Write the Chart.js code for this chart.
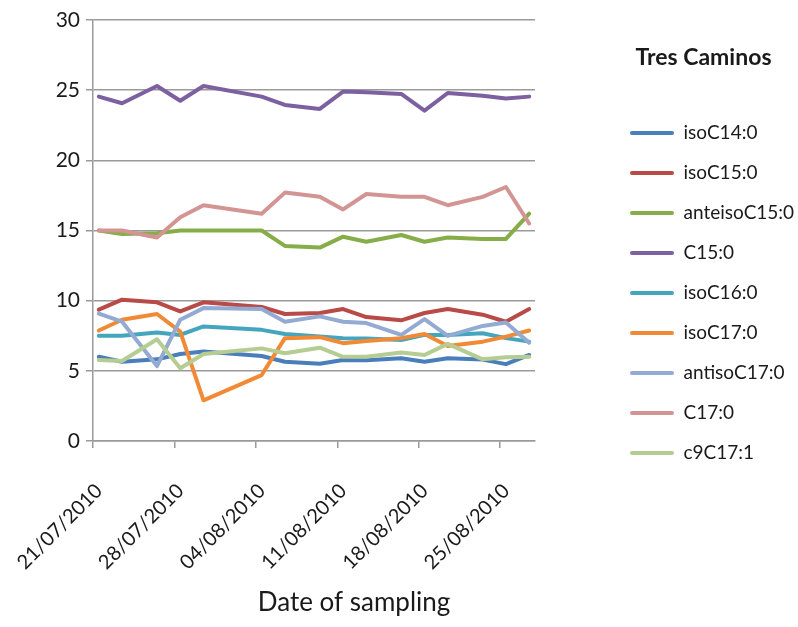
<!DOCTYPE html>
<html>
<head>
<meta charset="utf-8">
<script src="https://cdn.jsdelivr.net/npm/chart.js@4.4.0/dist/chart.umd.min.js"></script>
<style>
  html, body { margin: 0; padding: 0; background: #fff; overflow: hidden; }
  canvas { display: block; }
</style>
</head>
<body>
<canvas id="myChart" width="798" height="627"></canvas>
<script>
// sampling dates (dd/mm/yyyy)
const sampleDates = ['21/07/2010', '23/07/2010', '26/07/2010', '28/07/2010', '30/07/2010',
  '04/08/2010', '06/08/2010', '09/08/2010', '11/08/2010', '13/08/2010', '16/08/2010',
  '18/08/2010', '20/08/2010', '23/08/2010', '25/08/2010', '27/08/2010'];
const tickLabels = ['21/07/2010', '28/07/2010', '04/08/2010', '11/08/2010', '18/08/2010', '25/08/2010'];
const axisEnd = '28/08/2010';

const seriesNames = ['isoC14:0', 'isoC15:0', 'anteisoC15:0', 'C15:0', 'isoC16:0',
  'isoC17:0', 'antisoC17:0', 'C17:0', 'c9C17:1'];

const isoC14 = [6.0, 5.65, 5.82, 6.2, 6.37, 6.06, 5.65, 5.5, 5.77, 5.75, 5.89, 5.65, 5.89, 5.8, 5.48, 6.13];
const isoC15 = [9.36, 10.07, 9.88, 9.23, 9.88, 9.55, 9.05, 9.12, 9.4, 8.83, 8.6, 9.12, 9.4, 9.0, 8.5, 9.4];
const anteisoC15 = [15.0, 14.75, 14.8, 15.0, 15.0, 15.0, 13.9, 13.78, 14.56, 14.2, 14.68, 14.2, 14.5, 14.4, 14.4, 16.2];
const c15 = [24.54, 24.07, 25.3, 24.25, 25.3, 24.54, 23.95, 23.66, 24.9, 24.85, 24.73, 23.54, 24.8, 24.6, 24.4, 24.54];
const isoC16 = [7.5, 7.5, 7.73, 7.56, 8.16, 7.92, 7.63, 7.44, 7.33, 7.3, 7.2, 7.56, 7.56, 7.68, 7.33, 7.08];
const isoC17 = [7.87, 8.64, 9.05, 7.8, 2.9, 4.7, 7.33, 7.4, 6.97, 7.13, 7.33, 7.63, 6.77, 7.08, 7.44, 7.87];
const antisoC17 = [9.07, 8.5, 5.34, 8.64, 9.47, 9.4, 8.5, 8.88, 8.5, 8.4, 7.56, 8.69, 7.49, 8.2, 8.44, 7.0];
const c17 = [15.0, 15.0, 14.5, 15.95, 16.8, 16.2, 17.7, 17.4, 16.5, 17.6, 17.4, 17.4, 16.8, 17.4, 18.1, 15.5];
const c9C17_1 = [5.77, 5.7, 7.25, 5.18, 6.2, 6.6, 6.25, 6.65, 6.0, 6.0, 6.3, 6.13, 6.92, 5.82, 5.96, 6.0];

const allSeries = [isoC14, isoC15, anteisoC15, c15, isoC16, isoC17, antisoC17, c17, c9C17_1];
const colors = ['#4a7ebb', '#b84a47', '#86ad48', '#7d60a0', '#44a5bf', '#f08a36', '#93aad2', '#d39494', '#b5cc92'];
const xTitle = 'Date of sampling';

function toDay(s) {
  const p = s.split('/').map(Number);
  return Date.UTC(p[2], p[1] - 1, p[0]) / 86400000;
}
const day0 = toDay(tickLabels[0]);
const tickDays = tickLabels.map(s => toDay(s) - day0);

const textColor = '#1a1a1a';
const gridColor = '#9a9a9a';
Chart.defaults.font.family = 'Lato';
Chart.defaults.color = textColor;

const ctx = document.getElementById('myChart');

const datasets = allSeries.map((vals, i) => ({
  label: seriesNames[i],
  // a date axis puts each day in the middle of its own slot
  data: vals.map((v, j) => ({ x: toDay(sampleDates[j]) - day0 + 0.5, y: v })),
  borderColor: colors[i],
  backgroundColor: colors[i],
  borderWidth: 4,
  pointRadius: 0,
  tension: 0,
  borderCapStyle: 'round',
  borderJoinStyle: 'round',
  order: allSeries.length - i
}));

// axis title sits a bit right of the plot centre, as in the original
const axisTitle = {
  id: 'axisTitle',
  afterDraw(chart) {
    const a = chart.chartArea;
    const c = chart.ctx;
    c.save();
    c.font = '26px Lato';
    c.fillStyle = textColor;
    c.textAlign = 'center';
    c.textBaseline = 'middle';
    c.fillText(xTitle, (a.left + a.right) / 2 + 40, 603);
    c.restore();
  }
};

new Chart(ctx, {
  type: 'line',
  data: { datasets: datasets },
  plugins: [axisTitle],
  options: {
    responsive: false,
    animation: false,
    layout: { padding: { top: 20, right: 0, bottom: 0, left: 0 } },
    plugins: {
      tooltip: { enabled: false },
      legend: {
        position: 'right',
        align: 'start',
        maxWidth: 189,
        title: {
          display: true,
          text: 'Tres Caminos',
          color: textColor,
          font: { size: 23, weight: 'bold' },
          padding: { top: 26.5, bottom: 28.4 }
        },
        labels: {
          color: textColor,
          font: { size: 19 },
          boxWidth: 44,
          boxHeight: 4,
          padding: 21,
          useBorderRadius: true,
          borderRadius: 2,
          sort: (a, b) => a.datasetIndex - b.datasetIndex,
          generateLabels: (chart) => Chart.defaults.plugins.legend.labels.generateLabels(chart)
            .map(l => Object.assign(l, { lineWidth: 0 }))
        }
      }
    },
    scales: {
      x: {
        type: 'linear',
        min: 0,
        max: toDay(axisEnd) - day0,
        afterBuildTicks: (axis) => { axis.ticks = tickDays.map(v => ({ value: v })); },
        afterFit: (axis) => {
          axis.height = 186;
          axis.paddingLeft = 0;
          axis.paddingRight = 0;
        },
        ticks: {
          autoSkip: false,
          minRotation: 45,
          maxRotation: 45,
          padding: 31,
          labelOffset: 6,
          color: textColor,
          font: { size: 20 },
          callback: (v) => tickLabels[tickDays.indexOf(v)]
        },
        grid: { drawOnChartArea: false, color: gridColor, lineWidth: 1.5, tickLength: 7 },
        border: { color: gridColor, width: 1.5 }
      },
      y: {
        min: 0,
        max: 30,
        afterFit: (axis) => { axis.width = 93; },
        ticks: { stepSize: 5, padding: 6, color: textColor, font: { size: 21 } },
        grid: { color: gridColor, lineWidth: 1.5, tickLength: 7 },
        border: { color: gridColor, width: 1.5 }
      },
      gap: {
        type: 'linear',
        position: 'right',
        grid: { display: false },
        ticks: { display: false },
        border: { display: false },
        afterFit: (axis) => { axis.width = 74; }
      }
    }
  }
});
</script>
</body>
</html>
